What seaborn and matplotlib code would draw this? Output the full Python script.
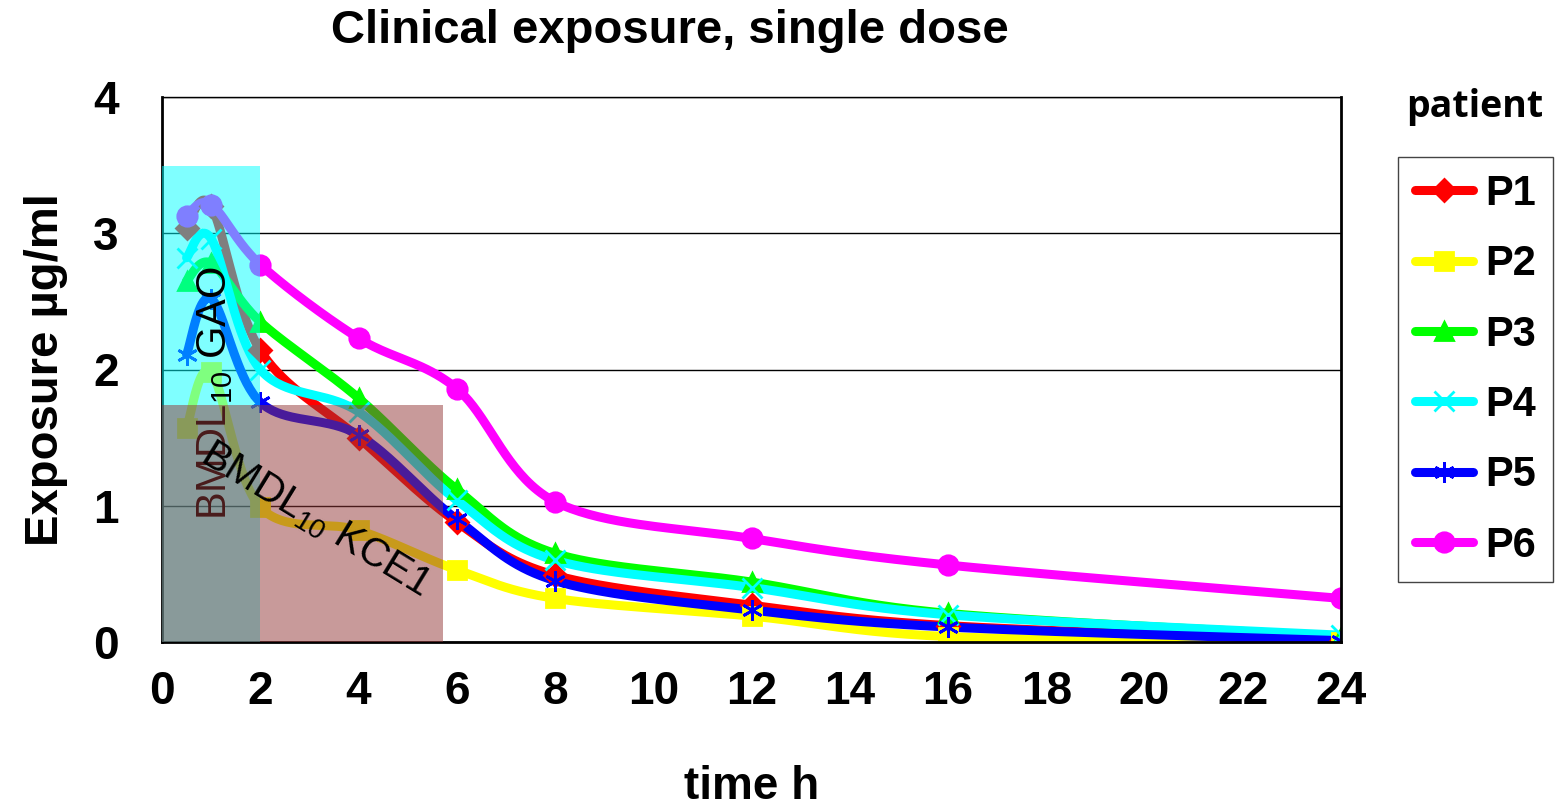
import numpy as np
import matplotlib
matplotlib.use("Agg")
import matplotlib.pyplot as plt
import seaborn as sns
from matplotlib.patches import Rectangle
from matplotlib.lines import Line2D

# ---- data ----
time_h = [0.5, 1, 2, 4, 6, 8, 12, 16, 24]
P1 = [3.04, 3.20, 2.14, 1.50, 0.88, 0.49, 0.27, 0.12, 0.01]
P2 = [1.57, 1.98, 0.99, 0.82, 0.53, 0.32, 0.19, 0.04, 0.00]
P3 = [2.65, 2.78, 2.35, 1.79, 1.12, 0.65, 0.44, 0.21, 0.04]
P4 = [2.82, 2.96, 2.00, 1.69, 1.04, 0.60, 0.40, 0.20, 0.05]
P5 = [2.11, 2.52, 1.76, 1.52, 0.90, 0.45, 0.235, 0.11, 0.01]
P6 = [3.13, 3.21, 2.77, 2.23, 1.86, 1.03, 0.76, 0.565, 0.32]
patients = ["P1", "P2", "P3", "P4", "P5", "P6"]
series = [P1, P2, P3, P4, P5, P6]
colors = ["#ff0000", "#ffff00", "#00ff00", "#00ffff", "#0000ff", "#ff00ff"]
markers = ["D", "s", "^", "x", (6, 2, 0), "o"]
marker_sizes = [11, 13, 13, 14, 15, 14]

# threshold regions (BMDL10)
gao_time = 2.0
gao_level = 3.49
kce1_time = 5.72
kce1_level = 1.74

x_ticks = list(range(0, 25, 2))
y_ticks = [0, 1, 2, 3, 4]


def smooth(x, y, n=40):
    pts = np.column_stack([x, y]).astype(float)
    P = np.vstack([pts[0], pts, pts[-1]])
    out = []
    t = np.linspace(0, 1, n)[:, None]
    for i in range(1, len(P) - 2):
        p0, p1, p2, p3 = P[i - 1], P[i], P[i + 1], P[i + 2]
        c1 = p1 + (p2 - p0) / 6
        c2 = p2 - (p3 - p1) / 6
        b = (1 - t) ** 3 * p1 + 3 * (1 - t) ** 2 * t * c1 + 3 * (1 - t) * t ** 2 * c2 + t ** 3 * p2
        out.append(b if i == 1 else b[1:])
    s = np.vstack(out)
    return s[:, 0], s[:, 1]


sns.set_theme(style="white")
plt.rcParams["font.family"] = ["Liberation Sans", "DejaVu Sans"]
plt.rcParams["mathtext.default"] = "regular"
plt.rcParams["text.color"] = "black"
plt.rcParams["axes.labelcolor"] = "black"
plt.rcParams["xtick.color"] = "black"
plt.rcParams["ytick.color"] = "black"

fig = plt.figure(figsize=(15.6, 8.11), dpi=100)
ax = fig.add_axes([162 / 1560, 1 - 642 / 811, (1341 - 162) / 1560, (642 - 97) / 811])

for name, vals, c, m, ms in zip(patients, series, colors, markers, marker_sizes):
    sx, sy = smooth(time_h, vals)
    sns.lineplot(x=sx, y=sy, sort=False, estimator=None, color=c, lw=6.5,
                 ax=ax, zorder=2, solid_capstyle="round")
    ax.plot(time_h, vals, ls="none", marker=m, color=c, ms=ms, mew=2, zorder=2.1)

ax.add_patch(Rectangle((0, 0), gao_time, gao_level, facecolor="#00ffff", alpha=0.5,
                       edgecolor="none", zorder=3))
ax.text(1.08, 1.83, r"BMDL$_{10}$ GAO", rotation=90, ha="center", va="center",
        fontsize=30, color="black", zorder=3.5)
ax.add_patch(Rectangle((0, 0), kce1_time, kce1_level, facecolor="#933737", alpha=0.5,
                       edgecolor="none", zorder=4))
ax.text(3.12, 0.90, r"BMDL$_{10}$ KCE1", rotation=-31.5, ha="center", va="center",
        fontsize=29, color="black", zorder=5, rotation_mode="anchor")

ax.set_xlim(0, 24)
ax.set_ylim(0, 4)
ax.set_xticks(x_ticks)
ax.set_yticks(y_ticks)
ax.tick_params(axis="both", labelsize=33, direction="out", length=10, width=1,
               color="#555555", labelcolor="black")
ax.tick_params(axis="x", pad=10)
ax.tick_params(axis="y", pad=21)
for lab in ax.get_xticklabels() + ax.get_yticklabels():
    lab.set_fontweight("bold")
ax.yaxis.grid(True, color="black", lw=1)
ax.xaxis.grid(False)
for side in ["left", "bottom", "right"]:
    ax.spines[side].set_color("black")
    ax.spines[side].set_linewidth(2)
ax.spines["top"].set_visible(False)
ax.axhline(4, color="black", lw=1, clip_on=False, zorder=1)

ax.set_xlabel("time h", fontsize=33, fontweight="bold", labelpad=37)
ax.set_ylabel("Exposure µg/ml", fontsize=34, fontweight="bold", labelpad=18)

fig.text(670 / 1560, 1 - 31 / 811, "Clinical exposure, single dose", ha="center",
         va="center", fontsize=34, fontweight="bold")
fig.text(1475 / 1560, 1 - 107 / 811, "patient", ha="center", va="center",
         fontsize=27, fontweight="bold", family=["Open Sans", "DejaVu Sans"])

handles = [Line2D([0], [0], color=c, lw=6.5, marker=m, ms=ms, mew=2,
                  solid_capstyle="round")
           for c, m, ms in zip(colors, markers, marker_sizes)]
leg = fig.legend(handles, patients, loc="upper left",
                 bbox_to_anchor=(1398 / 1560, 1 - 157 / 811),
                 bbox_transform=fig.transFigure, frameon=True, fancybox=False,
                 framealpha=1, edgecolor="#444444", borderaxespad=0,
                 handlelength=1.4, handletextpad=0.3, labelspacing=0.73,
                 borderpad=0.4, prop={"size": 30, "weight": "bold"})
leg.get_frame().set_linewidth(1)

fig.savefig("out.png", dpi=100)
